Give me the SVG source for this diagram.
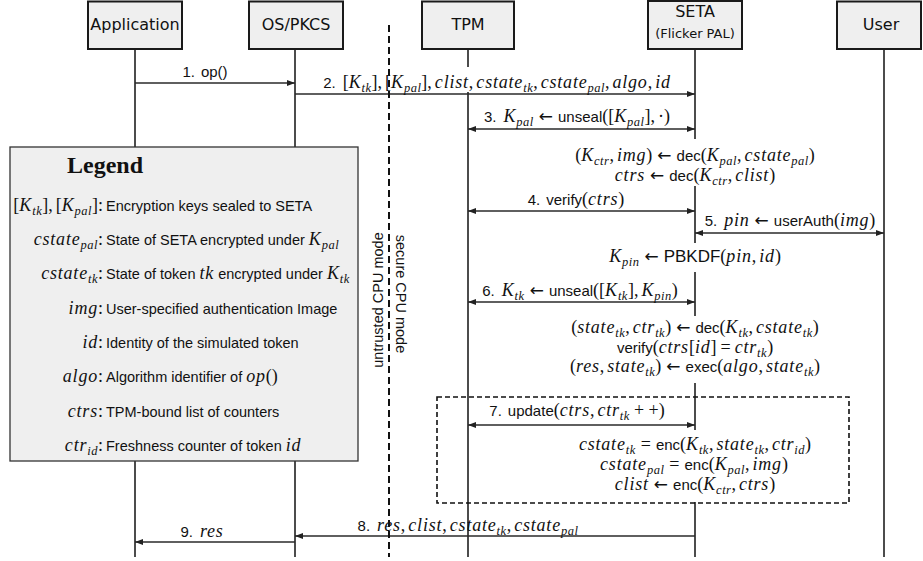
<svg xmlns="http://www.w3.org/2000/svg" width="923" height="561" viewBox="0 0 923 561">
<style>
.box{fill:#efefef;stroke:#1a1a1a;stroke-width:2}
.nd{font-family:"DejaVu Sans",sans-serif;font-size:16px;fill:#111;text-anchor:middle}
.sm{font-size:13px}
.life{stroke:#111;stroke-width:1.5;fill:none}
.msg{stroke:#2a2a2a;stroke-width:1.4;fill:none}
text{fill:#111}
.f{font-family:"Liberation Sans",Arial,sans-serif;font-size:15px;font-style:normal;letter-spacing:0}
.lg{font-size:14.5px}
.i{font-family:"Liberation Serif","Times New Roman",serif;font-style:italic;font-size:18px;letter-spacing:0.8px}
.r{font-family:"Liberation Serif","Times New Roman",serif;font-style:normal;font-size:18px}
.b{font-size:12.5px;letter-spacing:0.5px}
.a{font-family:"DejaVu Sans",sans-serif;font-style:normal;font-size:17px;letter-spacing:0}
.big{font-size:17px}
.c{text-anchor:middle}
.e{text-anchor:end}
.wb{fill:#ffffff;stroke:none}
</style>
<defs>
<marker id="ah" viewBox="0 0 8 6" refX="8" refY="3" markerWidth="8" markerHeight="6" markerUnits="userSpaceOnUse" orient="auto-start-reverse">
<path d="M0,0 L8,3 L0,6 z" fill="#222"/>
</marker>
</defs>
<rect width="923" height="561" fill="#ffffff"/>

<g id="node-application">
<line class="life" x1="135" y1="49" x2="135" y2="557"/>
<rect class="box" x="88" y="1.5" width="94" height="47.5"/>
<text class="nd" x="135" y="30">Application</text>
</g>
<g id="node-ospkcs">
<line class="life" x1="295" y1="49" x2="295" y2="557"/>
<rect class="box" x="249" y="1.5" width="94" height="47.5"/>
<text class="nd" x="296" y="30">OS/PKCS</text>
</g>
<g id="node-tpm">
<line class="life" x1="468" y1="49" x2="468" y2="557"/>
<rect class="box" x="422" y="1.5" width="92" height="47.5"/>
<text class="nd" x="468" y="30">TPM</text>
</g>
<g id="node-seta">
<line class="life" x1="695" y1="49" x2="695" y2="557"/>
<rect class="box" x="648" y="1" width="94" height="48"/>
<text class="nd" x="695" y="17">SETA</text>
<text class="nd sm" x="695" y="38">(Flicker PAL)</text>
</g>
<g id="node-user">
<line class="life" x1="884" y1="49" x2="884" y2="557"/>
<rect class="box" x="837" y="1.5" width="84" height="47.5"/>
<text class="nd" x="881" y="30">User</text>
</g>

<g id="legend">
<rect x="10" y="147" width="348" height="314" fill="#efefef" stroke="#333" stroke-width="1.3"/>
<text x="105" y="173" font-family="Liberation Serif" font-weight="bold" font-size="24" text-anchor="middle">Legend</text>
<text class="r e" x="103" y="211">[<tspan class="i">K</tspan><tspan class="i b" dy="3.5">tk</tspan><tspan dy="-3.5">],</tspan><tspan dx="3">[</tspan><tspan class="i">K</tspan><tspan class="i b" dy="3.5">pal</tspan><tspan dy="-3.5">]:</tspan></text>
<text class="f lg" x="106" y="211">Encryption keys sealed to SETA</text>
<text class="r e" x="103" y="245"><tspan class="i">cstate</tspan><tspan class="i b" dy="3.5">pal</tspan><tspan dy="-3.5">:</tspan></text>
<text class="f lg" x="106" y="245">State of SETA encrypted under <tspan class="i">K</tspan><tspan class="i b" dy="3.5">pal</tspan></text>
<text class="r e" x="103" y="279"><tspan class="i">cstate</tspan><tspan class="i b" dy="3.5">tk</tspan><tspan dy="-3.5">:</tspan></text>
<text class="f lg" x="106" y="279">State of token <tspan class="i">tk</tspan> encrypted under <tspan class="i">K</tspan><tspan class="i b" dy="3.5">tk</tspan></text>
<text class="r e" x="103" y="314"><tspan class="i">img</tspan>:</text>
<text class="f lg" x="106" y="314">User-specified authentication Image</text>
<text class="r e" x="103" y="348"><tspan class="i">id</tspan>:</text>
<text class="f lg" x="106" y="348">Identity of the simulated token</text>
<text class="r e" x="103" y="382"><tspan class="i">algo</tspan>:</text>
<text class="f lg" x="106" y="382">Algorithm identifier of <tspan class="i">op</tspan><tspan class="r">()</tspan></text>
<text class="r e" x="103" y="417"><tspan class="i">ctrs</tspan>:</text>
<text class="f lg" x="106" y="417">TPM-bound list of counters</text>
<text class="r e" x="103" y="451"><tspan class="i">ctr</tspan><tspan class="i b" dy="3.5">id</tspan><tspan dy="-3.5">:</tspan></text>
<text class="f lg" x="106" y="451">Freshness counter of token <tspan class="i">id</tspan></text>
</g>

<g id="connectors">
<rect class="wb" x="318" y="67" width="357" height="25"/>
<path class="msg" d="M135,83 H295" marker-end="url(#ah)"/>
<path class="msg" d="M295,94 H695" marker-end="url(#ah)"/>
<path class="msg" d="M468,129 H695" marker-start="url(#ah)" marker-end="url(#ah)"/>
<path class="msg" d="M468,211 H695" marker-start="url(#ah)" marker-end="url(#ah)"/>
<path class="msg" d="M695,233 H884" marker-start="url(#ah)" marker-end="url(#ah)"/>
<path class="msg" d="M468,302 H695" marker-start="url(#ah)" marker-end="url(#ah)"/>
<path class="msg" d="M468,425 H695" marker-start="url(#ah)" marker-end="url(#ah)"/>
<path class="msg" d="M695,536 H295" marker-end="url(#ah)"/>
<path class="msg" d="M295,542 H135" marker-end="url(#ah)"/>

<text class="f c" x="205" y="77">1.<tspan dx="6">op()</tspan></text>
<text class="f c" x="497" y="88">2.<tspan class="r" dx="7">[</tspan><tspan class="i">K</tspan><tspan class="i b" dy="3.5">tk</tspan><tspan class="r" dy="-3.5">],</tspan><tspan class="r" dx="3">[</tspan><tspan class="i">K</tspan><tspan class="i b" dy="3.5">pal</tspan><tspan class="r" dy="-3.5">],</tspan><tspan class="i" dx="3">clist</tspan><tspan class="r">,</tspan><tspan class="i" dx="3">cstate</tspan><tspan class="i b" dy="3.5">tk</tspan><tspan class="r" dy="-3.5">,</tspan><tspan class="i" dx="3">cstate</tspan><tspan class="i b" dy="3.5">pal</tspan><tspan class="r" dy="-3.5">,</tspan><tspan class="i" dx="3">algo</tspan><tspan class="r">,</tspan><tspan class="i" dx="3">id</tspan></text>
<text class="f c" x="577" y="122">3.<tspan class="i" dx="7">K</tspan><tspan class="i b" dy="3.5">pal</tspan><tspan class="a" dy="-3.5" dx="5">←</tspan><tspan dx="5">unseal</tspan><tspan class="r">([</tspan><tspan class="i">K</tspan><tspan class="i b" dy="3.5">pal</tspan><tspan class="r" dy="-3.5">],</tspan><tspan class="r" dx="3">·)</tspan></text>
<text class="f c" x="576" y="205">4.<tspan dx="6">verify</tspan><tspan class="r">(</tspan><tspan class="i">ctrs</tspan><tspan class="r">)</tspan></text>
<text class="f c" x="790" y="226">5.<tspan class="i" dx="7">pin</tspan><tspan class="a" dx="5">←</tspan><tspan dx="5">userAuth</tspan><tspan class="r">(</tspan><tspan class="i">img</tspan><tspan class="r">)</tspan></text>
<text class="f c" x="580" y="296">6.<tspan class="i" dx="7">K</tspan><tspan class="i b" dy="3.5">tk</tspan><tspan class="a" dy="-3.5" dx="5">←</tspan><tspan dx="5">unseal</tspan><tspan class="r">([</tspan><tspan class="i">K</tspan><tspan class="i b" dy="3.5">tk</tspan><tspan class="r" dy="-3.5">],</tspan><tspan class="i" dx="3">K</tspan><tspan class="i b" dy="3.5">pin</tspan><tspan class="r" dy="-3.5">)</tspan></text>
<text class="f c" x="577" y="416">7.<tspan dx="6">update</tspan><tspan class="r">(</tspan><tspan class="i">ctrs</tspan><tspan class="r">,</tspan><tspan class="i" dx="3">ctr</tspan><tspan class="i b" dy="3.5">tk</tspan><tspan class="r" dy="-3.5" dx="4">+ +)</tspan></text>
<text class="f c" x="468" y="531">8.<tspan class="i" dx="7">res</tspan><tspan class="r">,</tspan><tspan class="i" dx="3">clist</tspan><tspan class="r">,</tspan><tspan class="i" dx="3">cstate</tspan><tspan class="i b" dy="3.5">tk</tspan><tspan class="r" dy="-3.5">,</tspan><tspan class="i" dx="3">cstate</tspan><tspan class="i b" dy="3.5">pal</tspan></text>
<text class="f c" x="202" y="537">9.<tspan class="i" dx="7">res</tspan></text>
</g>

<g id="mode-boundary">
<line x1="389" y1="25" x2="389" y2="557" stroke="#111" stroke-width="2" stroke-dasharray="7,4"/>
<text class="f lg c" transform="translate(383,300) rotate(-90)">untrusted CPU mode</text>
<text class="f lg c" transform="translate(396,294) rotate(90)">secure CPU mode</text>
</g>

<g id="seta-computations">
<rect class="wb" x="565" y="139" width="260" height="47"/>
<text class="r c" x="695" y="161">(<tspan class="i">K</tspan><tspan class="i b" dy="3.5">ctr</tspan><tspan dy="-3.5">,</tspan><tspan class="i" dx="3">img</tspan><tspan>)</tspan><tspan class="a" dx="5">←</tspan><tspan class="f" dx="5">dec</tspan><tspan>(</tspan><tspan class="i">K</tspan><tspan class="i b" dy="3.5">pal</tspan><tspan dy="-3.5">,</tspan><tspan class="i" dx="3">cstate</tspan><tspan class="i b" dy="3.5">pal</tspan><tspan dy="-3.5">)</tspan></text>
<text class="r c" x="695" y="181"><tspan class="i">ctrs</tspan><tspan class="a" dx="5">←</tspan><tspan class="f" dx="5">dec</tspan><tspan>(</tspan><tspan class="i">K</tspan><tspan class="i b" dy="3.5">ctr</tspan><tspan dy="-3.5">,</tspan><tspan class="i" dx="3">clist</tspan><tspan>)</tspan></text>

<rect class="wb" x="600" y="243" width="190" height="29"/>
<text class="r c" x="695" y="262"><tspan class="i">K</tspan><tspan class="i b" dy="3.5">pin</tspan><tspan class="a" dy="-3.5" dx="5">←</tspan><tspan class="f big" dx="5">PBKDF</tspan><tspan>(</tspan><tspan class="i">pin</tspan><tspan>,</tspan><tspan class="i" dx="3">id</tspan><tspan>)</tspan></text>

<rect class="wb" x="558" y="316" width="273" height="67"/>
<text class="r c" x="695" y="333">(<tspan class="i">state</tspan><tspan class="i b" dy="3.5">tk</tspan><tspan dy="-3.5">,</tspan><tspan class="i" dx="3">ctr</tspan><tspan class="i b" dy="3.5">tk</tspan><tspan dy="-3.5">)</tspan><tspan class="a" dx="5">←</tspan><tspan class="f" dx="5">dec</tspan><tspan>(</tspan><tspan class="i">K</tspan><tspan class="i b" dy="3.5">tk</tspan><tspan dy="-3.5">,</tspan><tspan class="i" dx="3">cstate</tspan><tspan class="i b" dy="3.5">tk</tspan><tspan dy="-3.5">)</tspan></text>
<text class="r c" x="695" y="353"><tspan class="f">verify</tspan><tspan>(</tspan><tspan class="i">ctrs</tspan><tspan>[</tspan><tspan class="i">id</tspan><tspan>]</tspan><tspan dx="4">=</tspan><tspan class="i" dx="4">ctr</tspan><tspan class="i b" dy="3.5">tk</tspan><tspan dy="-3.5">)</tspan></text>
<text class="r c" x="695" y="372">(<tspan class="i">res</tspan><tspan>,</tspan><tspan class="i" dx="3">state</tspan><tspan class="i b" dy="3.5">tk</tspan><tspan dy="-3.5">)</tspan><tspan class="a" dx="5">←</tspan><tspan class="f" dx="5">exec</tspan><tspan>(</tspan><tspan class="i">algo</tspan><tspan>,</tspan><tspan class="i" dx="3">state</tspan><tspan class="i b" dy="3.5">tk</tspan><tspan dy="-3.5">)</tspan></text>

<rect x="437" y="397" width="412" height="106" fill="none" stroke="#111" stroke-width="1.6" stroke-dasharray="5,3"/>
<rect class="wb" x="568" y="430" width="254" height="72"/>
<text class="r c" x="695" y="450"><tspan class="i">cstate</tspan><tspan class="i b" dy="3.5">tk</tspan><tspan dy="-3.5" dx="5">=</tspan><tspan class="f" dx="5">enc</tspan><tspan>(</tspan><tspan class="i">K</tspan><tspan class="i b" dy="3.5">tk</tspan><tspan dy="-3.5">,</tspan><tspan class="i" dx="3">state</tspan><tspan class="i b" dy="3.5">tk</tspan><tspan dy="-3.5">,</tspan><tspan class="i" dx="3">ctr</tspan><tspan class="i b" dy="3.5">id</tspan><tspan dy="-3.5">)</tspan></text>
<text class="r c" x="694" y="470"><tspan class="i">cstate</tspan><tspan class="i b" dy="3.5">pal</tspan><tspan dy="-3.5" dx="5">=</tspan><tspan class="f" dx="5">enc</tspan><tspan>(</tspan><tspan class="i">K</tspan><tspan class="i b" dy="3.5">pal</tspan><tspan dy="-3.5">,</tspan><tspan class="i" dx="3">img</tspan><tspan>)</tspan></text>
<text class="r c" x="695" y="490"><tspan class="i">clist</tspan><tspan class="a" dx="5">←</tspan><tspan class="f" dx="5">enc</tspan><tspan>(</tspan><tspan class="i">K</tspan><tspan class="i b" dy="3.5">ctr</tspan><tspan dy="-3.5">,</tspan><tspan class="i" dx="3">ctrs</tspan><tspan>)</tspan></text>
</g>
</svg>
